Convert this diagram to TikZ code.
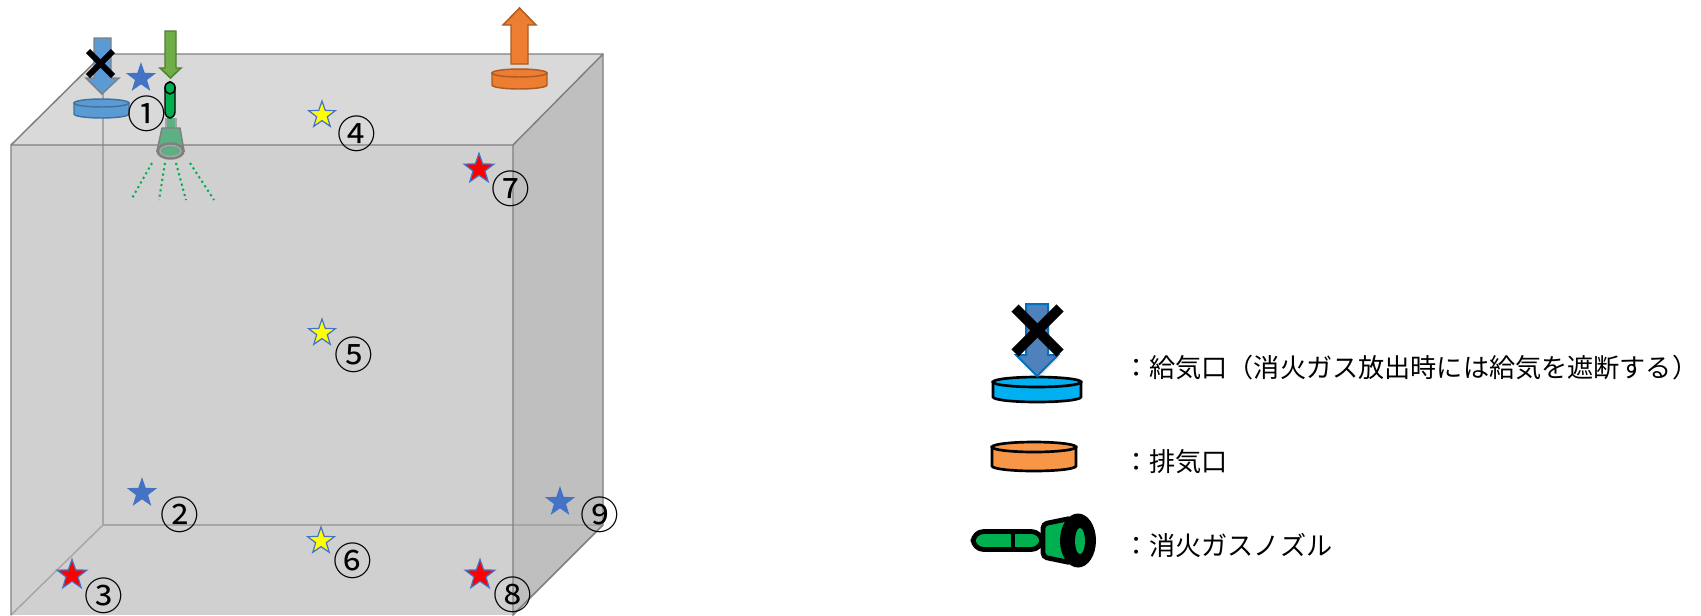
\documentclass[tikz,border=0pt]{standalone}
\usepackage{fontspec}
\setmainfont{Noto Sans CJK JP}
\usetikzlibrary{shapes.geometric,shadows}
\definecolor{topface}{HTML}{D9D9D9}
\definecolor{frontface}{HTML}{D0D0D0}
\definecolor{rightface}{HTML}{BFBFBF}
\definecolor{edgedark}{HTML}{7F7F7F}
\definecolor{edgelight}{HTML}{A6A6A6}
\definecolor{bluefill}{HTML}{5B9BD5}
\definecolor{blueline}{HTML}{41719C}
\definecolor{orangefill}{HTML}{ED7D31}
\definecolor{orangeline}{HTML}{AE5A21}
\definecolor{greenfill}{HTML}{70AD47}
\definecolor{greenline}{HTML}{507E32}
\definecolor{nozzlegreen}{HTML}{00B050}
\definecolor{fadedgreen}{HTML}{5DB084}
\definecolor{starblue}{HTML}{4472C4}
\definecolor{staryellow}{HTML}{FFFF00}
\definecolor{starred}{HTML}{FF0000}
\definecolor{legendblue}{HTML}{00B0F0}
\definecolor{legendorange}{HTML}{F79646}
\definecolor{legendarrow}{HTML}{4F81BD}
\definecolor{legendarrowline}{HTML}{0070C0}
\tikzset{
  starmark/.style={star,star points=5,star point ratio=2.5,inner sep=0pt,minimum size=21pt,draw=starblue,line width=0.9pt,fill=#1},
  redstar/.style={starmark=starred,minimum size=23.5pt},
  numlabel/.style={inner sep=0pt,font=\fontsize{29}{29}\selectfont},
  legendtext/.style={anchor=west,inner sep=0pt,font=\fontsize{19.6}{24}\selectfont},
  cubeedge/.style={draw=edgedark,line width=1.1pt},
  hiddenedge/.style={draw=edgelight,line width=1.1pt},
  crossbar/.style={black,line cap=butt},
  spray/.style={draw=nozzlegreen,line width=1.5pt,dash pattern=on 1.6pt off 2.4pt},
  smallnozzle/.style={draw=edgedark,line width=1.1pt},
}
% x1, x2, y of top-ellipse centre, y of bottom, y radius, style
\newcommand\ventdisk[6]{%
  \draw[#6] (#1,#3) -- (#1,{#4-#5})
    .. controls (#1,{#4-0.45*#5}) and ({#1+0.22*(#2-#1)},#4) .. ({0.5*(#1+#2)},#4)
    .. controls ({#2-0.22*(#2-#1)},#4) and (#2,{#4-0.45*#5}) .. (#2,{#4-#5})
    -- (#2,#3) -- cycle;
  \draw[#6] ({0.5*(#1+#2)},#3) ellipse [x radius={0.5*(#2-#1)}, y radius=#5];
}
\begin{document}
\begin{tikzpicture}[x=0.75pt,y=-0.75pt]
\useasboundingbox (0,0) rectangle (1701,615);
% cube
\fill[topface] (11,145) -- (103,54) -- (603,54) -- (513,145) -- cycle;
\fill[rightface] (513,145) -- (603,54) -- (603,525) -- (513,615) -- cycle;
\fill[frontface] (11,145) rectangle (513,615);
\draw[hiddenedge] (103,54) -- (103,525);
\draw[hiddenedge] (103,525) -- (603,525);
\draw[hiddenedge] (103,525) -- (11,615);
\draw[cubeedge] (11,615) -- (11,145) -- (103,54) -- (603,54) -- (603,525) -- (513,615) -- (513,145) -- (11,145);
\draw[cubeedge] (513,145) -- (603,54);
% supply vent (crossed)
\ventdisk{74}{129}{103}{118}{4}{draw=blueline,fill=bluefill,line width=1.1pt}
\draw[draw=edgedark,fill=bluefill,line width=1.1pt] (94,38) -- (111,38) -- (111,78) -- (119,78) -- (102,94) -- (86,78) -- (94,78) -- cycle;
\draw[crossbar,line width=4.5pt] (88,51) -- (113,76);
\draw[crossbar,line width=4.5pt] (113,51) -- (88,76);
% exhaust vent
\ventdisk{492}{547}{73}{89}{4}{draw=orangeline,fill=orangefill,line width=1.1pt}
\draw[draw=orangeline,fill=orangefill,line width=1.1pt] (511,64) -- (528,64) -- (528,25) -- (536,25) -- (519.5,8) -- (503,25) -- (511,25) -- cycle;
% gas arrow
\draw[draw=greenline,fill=greenfill,line width=1.1pt] (165,31) -- (176,31) -- (176,68) -- (181,68) -- (170.5,78) -- (160,68) -- (165,68) -- cycle;
% nozzle on the ceiling
\fill[fadedgreen] (166,118) rectangle (176,129);
\draw[smallnozzle,draw=edgedark!70] (166,118) -- (166,129) (176,118) -- (176,129);
\draw[smallnozzle,fill=fadedgreen] (162,128) -- (180,128) -- (184,151) -- (157,151) -- cycle;
\draw[smallnozzle,fill=edgedark] (170.5,151) ellipse [x radius=13.5, y radius=8];
\draw[smallnozzle,draw=edgelight,fill=fadedgreen!80!edgedark] (170.5,151) ellipse [x radius=10.5, y radius=5.5];
\fill[fadedgreen] (170.5,151.5) ellipse [x radius=7.5, y radius=3.5];
\draw[black,fill=nozzlegreen,line width=1.1pt,rounded corners=4.5pt] (165,82) rectangle (175,118);
\draw[black,fill=nozzlegreen,line width=1.1pt] (170,88) ellipse [x radius=5, y radius=6];
\coordinate (s1a) at (152,163); \coordinate (s1b) at (131,200);
\coordinate (s2a) at (165,163); \coordinate (s2b) at (159,200);
\coordinate (s3a) at (176,163); \coordinate (s3b) at (186,200);
\coordinate (s4a) at (190,163); \coordinate (s4b) at (214,200);
\draw[spray] (s1a) -- (s1b);
\draw[spray] (s2a) -- (s2b);
\draw[spray] (s3a) -- (s3b);
\draw[spray] (s4a) -- (s4b);
% stars
\node[starmark=starblue] (st1) at (141,78) {};
\node[starmark=starblue] (st2) at (142,493) {};
\node[redstar] (st3) at (72,575) {};
\node[starmark=staryellow] (st4) at (322,115) {};
\node[starmark=staryellow] (st5) at (322,333) {};
\node[starmark=staryellow] (st6) at (321,541) {};
\node[redstar] (st7) at (479,169) {};
\node[redstar] (st8) at (480,575) {};
\node[starmark=starblue] (st9) at (560,502) {};
% numbers
\node[numlabel] (n1) at (147,113.5) {①};
\node[numlabel] (n2) at (180,514.5) {②};
\node[numlabel] (n3) at (104,596) {③};
\node[numlabel] (n4) at (357,133.5) {④};
\node[numlabel] (n5) at (354,354.5) {⑤};
\node[numlabel] (n6) at (353,560.5) {⑥};
\node[numlabel] (n7) at (511,188.5) {⑦};
\node[numlabel] (n8) at (513,594.5) {⑧};
\node[numlabel] (n9) at (600,514.5) {⑨};
% legend
\ventdisk{993}{1081}{382}{402}{5}{draw=black,fill=legendblue,line width=2pt}
\draw[draw=legendarrowline,fill=legendarrow,line width=1.5pt,drop shadow={opacity=.25,shadow xshift=1pt,shadow yshift=-1.5pt}] (1026,304) -- (1048,304) -- (1048,355) -- (1058,355) -- (1037,376) -- (1016,355) -- (1026,355) -- cycle;
\draw[crossbar,line width=7.5pt] (1015,308) -- (1060,353);
\draw[crossbar,line width=7.5pt] (1060,308) -- (1015,353);
\ventdisk{992}{1076}{447}{471}{5}{draw=black,fill=legendorange,line width=2pt}
\draw[black,fill=nozzlegreen,line width=3.6pt,rounded corners=8pt] (973,531.5) rectangle (1042,549.5);
\draw[black,line width=3.5pt] (1013,531.5) -- (1013,549.5);
\draw[black,fill=nozzlegreen,line width=3.6pt,rounded corners=3pt] (1043,524) -- (1072,518) -- (1072,563) -- (1043,557) -- cycle;
\fill[black] (1078,540.5) ellipse [x radius=18, y radius=27];
\fill[nozzlegreen] (1080,541) ellipse [x radius=5, y radius=13];
\node[legendtext] (t1) at (1123,368) {：給気口（消火ガス放出時には給気を遮断する）};
\node[legendtext] (t2) at (1123,462) {：排気口};
\node[legendtext] (t3) at (1123,545) {：消火ガスノズル};
\end{tikzpicture}
\end{document}
